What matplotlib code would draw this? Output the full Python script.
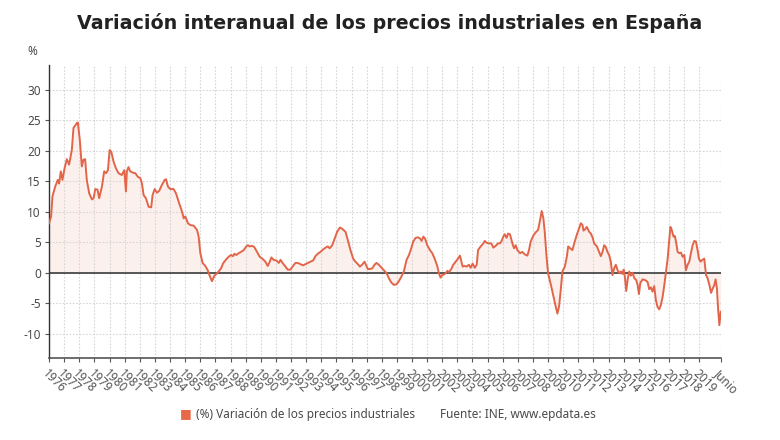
import matplotlib
matplotlib.use("Agg")
import matplotlib.pyplot as plt
import numpy as np

# fractional year and year-on-year variation (%)
years = [
    1976.00, 1976.13, 1976.22, 1976.40, 1976.57, 1976.66, 1976.77, 1976.88,
    1977.02, 1977.17, 1977.32, 1977.50, 1977.61, 1977.83, 1977.90,
    1978.03, 1978.16, 1978.27, 1978.38, 1978.49, 1978.65, 1978.83, 1978.94,
    1979.05, 1979.20, 1979.31, 1979.49, 1979.64, 1979.77, 1979.89,
    1980.00, 1980.11, 1980.26, 1980.42, 1980.59, 1980.81, 1980.97,
    1981.08, 1981.14, 1981.25, 1981.36, 1981.52, 1981.70, 1981.87,
    1982.03, 1982.14, 1982.25, 1982.40, 1982.58, 1982.75, 1982.84, 1982.98,
    1983.13, 1983.28, 1983.46, 1983.64, 1983.73, 1983.86,
    1984.01, 1984.23, 1984.39, 1984.57, 1984.79, 1984.90,
    1985.01, 1985.18, 1985.34, 1985.56, 1985.78, 1985.89,
    1986.00, 1986.15, 1986.33, 1986.49, 1986.60, 1986.77, 1986.93,
    1987.06, 1987.21, 1987.37, 1987.50, 1987.59, 1987.72, 1987.87,
    1988.03, 1988.16, 1988.25, 1988.38, 1988.54, 1988.69, 1988.87,
    1989.04, 1989.15, 1989.26, 1989.42, 1989.57, 1989.75, 1989.93,
    1990.15, 1990.30, 1990.46, 1990.59, 1990.70, 1990.85,
    1991.03, 1991.19, 1991.30, 1991.47, 1991.63, 1991.78, 1991.96,
    1992.13, 1992.29, 1992.44, 1992.62, 1992.80, 1992.95,
    1993.11, 1993.28, 1993.46, 1993.61, 1993.77, 1993.94,
    1994.12, 1994.28, 1994.43, 1994.56, 1994.72, 1994.87,
    1995.05, 1995.23, 1995.38, 1995.60, 1995.75, 1995.93,
    1996.11, 1996.26, 1996.42, 1996.55, 1996.70, 1996.86, 1996.99,
    1997.08, 1997.21, 1997.37, 1997.52, 1997.65, 1997.81, 1997.96,
    1998.14, 1998.32, 1998.47, 1998.63, 1998.80, 1998.98,
    1999.13, 1999.29, 1999.46, 1999.64, 1999.80, 1999.95,
    2000.08, 2000.24, 2000.39, 2000.53, 2000.64, 2000.75, 2000.86,
    2001.01, 2001.19, 2001.34, 2001.50, 2001.68, 2001.78, 2001.89,
    2002.00, 2002.11, 2002.22, 2002.34, 2002.45, 2002.60, 2002.73, 2002.89,
    2003.04, 2003.17, 2003.26, 2003.35, 2003.48, 2003.62, 2003.77, 2003.88,
    2004.01, 2004.15, 2004.28, 2004.37, 2004.54, 2004.72, 2004.81, 2004.94,
    2005.09, 2005.25, 2005.38, 2005.54, 2005.69, 2005.82, 2005.91,
    2006.04, 2006.13, 2006.26, 2006.35, 2006.48, 2006.64, 2006.75, 2006.86, 2006.97,
    2007.15, 2007.30, 2007.46, 2007.63, 2007.74, 2007.85,
    2008.03, 2008.18, 2008.34, 2008.47, 2008.58, 2008.69, 2008.78, 2008.89,
    2009.00, 2009.18, 2009.36, 2009.51, 2009.62, 2009.73, 2009.84, 2009.95,
    2010.11, 2010.24, 2010.33, 2010.46, 2010.61, 2010.73, 2010.90,
    2011.06, 2011.17, 2011.28, 2011.34, 2011.45, 2011.56, 2011.72, 2011.83, 2011.94,
    2012.05, 2012.23, 2012.38, 2012.49, 2012.60, 2012.71, 2012.82, 2012.93,
    2013.04, 2013.15, 2013.26, 2013.37, 2013.48, 2013.60, 2013.71, 2013.82, 2013.93,
    2014.00, 2014.08, 2014.17, 2014.26, 2014.37, 2014.48, 2014.59, 2014.70, 2014.83, 2014.92,
    2015.01, 2015.10, 2015.25, 2015.41, 2015.58, 2015.69, 2015.80, 2015.91,
    2016.02, 2016.13, 2016.24, 2016.35, 2016.46, 2016.58, 2016.69, 2016.80, 2016.91,
    2017.02, 2017.09, 2017.17, 2017.30, 2017.39, 2017.46, 2017.57, 2017.68, 2017.79, 2017.90,
    2018.01, 2018.12, 2018.23, 2018.34, 2018.45, 2018.56, 2018.67, 2018.78, 2018.89, 2018.98,
    2019.09, 2019.20, 2019.33, 2019.45, 2019.55, 2019.67, 2019.78, 2019.89,
    2020.00, 2020.08, 2020.17, 2020.25, 2020.33, 2020.42,
]
values = [
    8.1, 9.2, 12.5, 14.1, 15.2, 14.6, 16.6, 15.2,
    17.1, 18.6, 17.7, 20.1, 23.7, 24.5, 24.6,
    21.7, 17.4, 18.5, 18.6, 15.2, 13.0, 12.0, 12.2,
    13.7, 13.6, 12.2, 14.1, 16.6, 16.3, 16.8,
    20.1, 19.8, 18.2, 17.1, 16.3, 16.0, 16.8,
    13.3, 16.6, 17.3, 16.6, 16.4, 16.3, 15.7,
    15.5, 14.6, 12.7, 12.2, 10.8, 10.7, 12.7, 13.7,
    13.1, 13.4, 14.4, 15.2, 15.3, 14.1,
    13.7, 13.7, 13.0, 11.6, 10.0, 8.9,
    9.2, 8.1, 7.8, 7.7, 7.0, 5.9,
    3.2, 1.6, 1.1, 0.4, -0.4, -1.4, -0.5,
    -0.2, 0.2, 0.7, 1.5, 1.8, 2.2, 2.6,
    2.9, 2.7, 3.1, 2.9, 3.2, 3.4, 3.7,
    4.3, 4.5, 4.3, 4.4, 4.2, 3.4, 2.6,
    2.2, 1.8, 1.1, 1.8, 2.5, 2.1,
    2.0, 1.6, 2.1, 1.5, 1.0, 0.5, 0.5,
    1.1, 1.6, 1.6, 1.4, 1.2, 1.4,
    1.6, 1.8, 2.0, 2.7, 3.1, 3.4,
    3.8, 4.1, 4.3, 4.0, 4.5, 5.5,
    6.7, 7.4, 7.2, 6.7, 5.4, 3.7,
    2.3, 1.8, 1.4, 1.0, 1.3, 1.8, 1.1,
    0.6, 0.6, 0.7, 1.3, 1.6, 1.3, 0.9,
    0.4, -0.1, -0.9, -1.6, -2.0, -1.9,
    -1.4, -0.7, 0.2, 2.1, 2.9, 4.0,
    5.1, 5.7, 5.8, 5.6, 5.2, 5.9, 5.6,
    4.5, 3.7, 3.2, 2.3, 1.0, -0.1, -0.8,
    -0.4, -0.3, -0.1, 0.3, 0.1, 0.6, 1.3, 1.8,
    2.3, 2.8, 1.9, 1.0, 1.1, 1.0, 1.3, 0.8,
    1.5, 0.8, 1.3, 3.7, 4.3, 4.8, 5.2, 4.9,
    4.8, 4.8, 4.1, 4.4, 4.8, 4.8, 5.1,
    5.9, 6.3, 5.7, 6.4, 6.3, 4.8, 4.0, 4.5, 3.7,
    3.2, 3.4, 3.0, 2.8, 3.7, 5.1,
    6.1, 6.6, 7.0, 8.6, 10.1, 8.9, 6.7, 2.9,
    -0.1, -1.9, -3.9, -5.6, -6.7, -5.5, -2.8, 0.2,
    1.0, 2.6, 4.3, 4.0, 3.7, 4.8, 6.2,
    7.3, 8.1, 7.8, 6.9, 7.1, 7.5, 6.7, 6.4, 5.8,
    4.8, 4.3, 3.4, 2.7, 3.4, 4.5, 4.2, 3.4,
    2.9, 1.8, -0.4, 0.7, 1.3, 0.4, -0.1, 0.2, -0.2,
    0.5, -0.7, -3.0, -1.2, 0.2, -0.5, 0.0, -0.9, -1.2, -2.0,
    -3.5, -1.7, -1.1, -1.2, -1.5, -2.7, -2.4, -3.1,
    -2.2, -4.5, -5.6, -6.0, -5.3, -3.9, -2.0, 0.2, 2.3,
    5.4, 7.5, 7.1, 5.9, 6.0, 5.1, 3.4, 3.2, 3.3, 2.6,
    2.9, 0.4, 1.3, 1.8, 3.2, 4.5, 5.2, 5.1, 3.7, 2.3,
    1.8, 2.1, 2.3, -0.4, -0.9, -2.0, -3.3, -2.6,
    -2.0, -1.1, -2.6, -6.1, -8.6, -6.4,
]

tick_years = list(range(1976, 2020))
tick_labels = [str(y) for y in tick_years] + ["Junio"]

title = "Variación interanual de los precios industriales en España"
series_label = "(%) Variación de los precios industriales"
source = "Fuente: INE, www.epdata.es"

line_color = "#e2654a"
fill_color = "#fbe6e0"
text_color = "#4a4a4a"

plt.rcParams["font.family"] = ["Noto Sans", "DejaVu Sans"]

fig = plt.figure(figsize=(7.8, 4.4), dpi=100)
ax = fig.add_axes([0.063, 0.186, 0.861, 0.666])

x = np.asarray(years)
y = np.asarray(values)
ax.fill_between(x, 0, y, color=fill_color, alpha=0.6, linewidth=0, zorder=1)
ax.plot(x, y, color=line_color, linewidth=1.4, zorder=3)
ax.axhline(0, color="#4a4a4a", linewidth=1.3, zorder=2)

ax.set_xlim(years[0], years[-1])
ax.set_ylim(-14, 34)
ax.set_yticks(range(-10, 31, 5))
ax.set_yticklabels([str(v) for v in range(-10, 31, 5)])

ax.set_xticks(tick_years + [years[-1]])
ax.set_xticklabels(tick_labels, rotation=-45, ha="left", va="top",
                   rotation_mode="anchor", fontsize=8.5, color="#555555")
ax.tick_params(axis="x", length=3, width=0.8, color="#555555", pad=3)
ax.tick_params(axis="y", length=3, width=0.8, color="#555555", labelsize=8.5,
               labelcolor=text_color, pad=3)

ax.grid(True, color="#d6d6d6", linestyle=(0, (1.5, 1.5)), linewidth=0.8, zorder=0)
for side in ("top", "right"):
    ax.spines[side].set_visible(False)
ax.spines["left"].set_color("#333333")
ax.spines["left"].set_linewidth(1.0)
ax.spines["bottom"].set_color("#555555")
ax.spines["bottom"].set_linewidth(1.2)

fig.text(0.5, 0.948, title, ha="center", va="center", fontsize=13.7,
         fontweight="bold", color="#222222", family="DejaVu Sans")
fig.text(0.041, 0.882, "%", ha="center", va="center", fontsize=8.5, color=text_color)

fig.text(0.238, 0.059, "\u25A0", ha="center", va="center", fontsize=9,
         color="#e8694a", family="DejaVu Sans")
fig.text(0.251, 0.059, series_label, ha="left", va="center", fontsize=8.5, color=text_color)
fig.text(0.564, 0.059, source, ha="left", va="center", fontsize=8.5, color=text_color)

fig.savefig("out.png", dpi=100, facecolor="white")
